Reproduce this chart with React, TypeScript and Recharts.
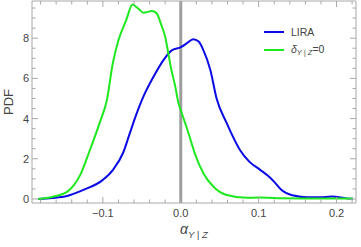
import React from "react";
import { LineChart, Line, XAxis, YAxis, ReferenceLine, Label } from "recharts";

// LIRA posterior (blue)
const liraX = [
  -0.183, -0.165, -0.146, -0.125, -0.1, -0.087, -0.074, -0.066, -0.059, -0.048,
  -0.035, -0.022, -0.012, 0, 0.008, 0.016, 0.023, 0.029, 0.038, 0.046, 0.059,
  0.076, 0.088, 0.102, 0.112, 0.12, 0.128, 0.135, 0.145, 0.162, 0.178, 0.194,
  0.213, 0.221,
];
const liraY = [
  0, 0.05, 0.15, 0.45, 0.95, 1.45, 2.3, 3.2, 4.0, 5.09, 6.08, 6.92, 7.38, 7.55,
  7.75, 7.95, 7.83, 7.41, 6.42, 5.0, 3.77, 2.44, 1.86, 1.45, 1.15, 0.85, 0.5,
  0.3, 0.17, 0.08, 0.08, 0.12, 0.03, 0.01,
];

// delta_Y|Z = 0 (green)
const deltaX = [
  -0.183, -0.165, -0.146, -0.137, -0.129, -0.117, -0.104, -0.095, -0.087, -0.08,
  -0.07, -0.062, -0.055, -0.048, -0.037, -0.031, -0.025, -0.02, -0.016, -0.012,
  -0.007, -0.003, 0.001, 0.01, 0.018, 0.029, 0.042, 0.059, 0.085, 0.1, 0.13,
  0.16, 0.19, 0.221,
];
const deltaY = [
  0, 0.1, 0.35, 0.7, 1.2, 2.4, 3.8, 4.9, 6.8, 7.9, 8.9, 9.67, 9.49, 9.27, 9.35,
  9.24, 8.66, 8.07, 7.25, 6.42, 5.59, 4.77, 4.3, 3.27, 2.27, 1.28, 0.61, 0.2,
  0.06, 0.07, 0.04, 0.03, 0.02, 0.02,
];

const xTicks = [
  -0.18, -0.16, -0.14, -0.12, -0.1, -0.08, -0.06, -0.04, -0.02, 0, 0.02, 0.04,
  0.06, 0.08, 0.1, 0.12, 0.14, 0.16, 0.18, 0.2, 0.22,
];
const xLabels = [-0.1, 0, 0.1, 0.2];
const yTicks = [
  0, 0.5, 1, 1.5, 2, 2.5, 3, 3.5, 4, 4.5, 5, 5.5, 6, 6.5, 7, 7.5, 8, 8.5, 9, 9.5,
];
const yLabels = [0, 2, 4, 6, 8];

const liraData = liraX.map((x, i) => ({ x, y: liraY[i] }));
const deltaData = deltaX.map((x, i) => ({ x, y: deltaY[i] }));

const X_DOMAIN = [-0.191, 0.225];
const Y_DOMAIN = [-0.2, 9.85];

const FONT = "'Liberation Sans', Arial, sans-serif";
const FRAME = "#a8a8a8";
const TEXT = "#444";
const BLUE = "#0a0ae6";
const GREEN = "#1ee81e";

const isIn = (v: number, list: number[]) =>
  list.some((l) => Math.abs(l - v) < 1e-9);

function fmtX(v: number) {
  if (Math.abs(v) < 1e-9) return "0.0";
  return v < 0 ? "\u2212" + Math.abs(v).toFixed(1) : v.toFixed(1);
}

const XTick = (props: any) => {
  const { x, y, payload, side } = props;
  const major = isIn(payload.value, xLabels);
  const len = major ? 6 : 3.5;
  const dir = side === "top" ? 1 : -1;
  return (
    <g>
      <line x1={x} x2={x} y1={y} y2={y + dir * len} stroke={FRAME} />
      {side === "bottom" && major ? (
        <text
          x={x}
          y={y + 14}
          textAnchor="middle"
          fontSize={11}
          fontFamily={FONT}
          fill={TEXT}
        >
          {fmtX(payload.value)}
        </text>
      ) : null}
    </g>
  );
};

const YTick = (props: any) => {
  const { x, y, payload, side } = props;
  const major = isIn(payload.value, yLabels);
  const len = major ? 6 : 3.5;
  const dir = side === "right" ? -1 : 1;
  return (
    <g>
      <line x1={x} x2={x + dir * len} y1={y} y2={y} stroke={FRAME} />
      {side === "left" && major ? (
        <text
          x={x - 3}
          y={y + 4}
          textAnchor="end"
          fontSize={11}
          fontFamily={FONT}
          fill={TEXT}
        >
          {payload.value}
        </text>
      ) : null}
    </g>
  );
};

const XTitle = (props: any) => {
  const { viewBox } = props;
  const cx = viewBox.x + viewBox.width / 2 - 14;
  const cy = viewBox.y + 31;
  return (
    <text x={cx} y={cy} fontFamily={FONT} fill={TEXT}>
      <tspan fontSize={14} fontStyle="italic">
        α
      </tspan>
      <tspan fontSize={9.5} fontStyle="italic" dy={4}>
        Y | Z
      </tspan>
    </text>
  );
};

const YTitle = (props: any) => {
  const { viewBox } = props;
  const cy = viewBox.y + viewBox.height / 2;
  return (
    <text
      x={8}
      y={cy}
      transform={`rotate(-90, 8, ${cy})`}
      textAnchor="middle"
      dominantBaseline="central"
      fontSize={13}
      fontFamily={FONT}
      fill={TEXT}
    >
      PDF
    </text>
  );
};

const LegendBox = () => (
  <div
    style={{
      position: "absolute",
      left: 264,
      top: 23,
      fontFamily: FONT,
      fontSize: 10.5,
      color: TEXT,
    }}
  >
    <div style={{ display: "flex", alignItems: "center", height: 18 }}>
      <svg width={20} height={4}>
        <line x1={0} x2={20} y1={2} y2={2} stroke={BLUE} strokeWidth={2} />
      </svg>
      <span style={{ marginLeft: 7 }}>LIRA</span>
    </div>
    <div style={{ display: "flex", alignItems: "center", height: 18 }}>
      <svg width={20} height={4}>
        <line x1={0} x2={20} y1={2} y2={2} stroke={GREEN} strokeWidth={2} />
      </svg>
      <span style={{ marginLeft: 7 }}>
        <i>δ</i>
        <sub style={{ fontSize: 7.5, fontStyle: "italic", verticalAlign: -2 }}>
          Y | Z
        </sub>
        =0
      </span>
    </div>
  </div>
);

export default function App() {
  return (
    <div style={{ position: "absolute", left: 0, top: 0, width: 361, height: 247 }}>
      <LineChart
        width={361}
        height={247}
        margin={{ top: 0, right: 4, bottom: 0, left: 0 }}
      >
        <XAxis
          dataKey="x"
          type="number"
          domain={X_DOMAIN}
          ticks={xTicks}
          interval={0}
          tickSize={0}
          tickMargin={0}
          tickLine={false}
          tick={<XTick side="bottom" />}
          height={44}
          stroke={FRAME}
          allowDataOverflow
        >
          <Label content={<XTitle />} />
        </XAxis>
        <XAxis
          xAxisId="top"
          dataKey="x"
          orientation="top"
          type="number"
          domain={X_DOMAIN}
          ticks={xTicks}
          interval={0}
          tickSize={0}
          tickMargin={0}
          tickLine={false}
          tick={<XTick side="top" />}
          height={1}
          stroke={FRAME}
          allowDataOverflow
        />
        <YAxis
          type="number"
          domain={Y_DOMAIN}
          ticks={yTicks}
          interval={0}
          tickSize={0}
          tickMargin={0}
          tickLine={false}
          tick={<YTick side="left" />}
          width={32}
          stroke={FRAME}
          allowDataOverflow
        >
          <Label content={<YTitle />} />
        </YAxis>
        <YAxis
          yAxisId="right"
          orientation="right"
          type="number"
          domain={Y_DOMAIN}
          ticks={yTicks}
          interval={0}
          tickSize={0}
          tickMargin={0}
          tickLine={false}
          tick={<YTick side="right" />}
          width={1}
          stroke={FRAME}
          allowDataOverflow
        />
        <ReferenceLine
          x={0}
          stroke="#8c8c8c"
          strokeWidth={3}
          strokeOpacity={0.85}
        />
        <Line
          data={liraData}
          dataKey="y"
          type="monotone"
          stroke={BLUE}
          strokeWidth={2}
          dot={false}
          isAnimationActive={false}
        />
        {/* same domains as the main axes, tied here so the frame axes draw */}
        <Line
          data={deltaData}
          dataKey="y"
          xAxisId="top"
          yAxisId="right"
          type="monotone"
          stroke={GREEN}
          strokeWidth={2}
          dot={false}
          isAnimationActive={false}
        />
      </LineChart>
      <LegendBox />
    </div>
  );
}
